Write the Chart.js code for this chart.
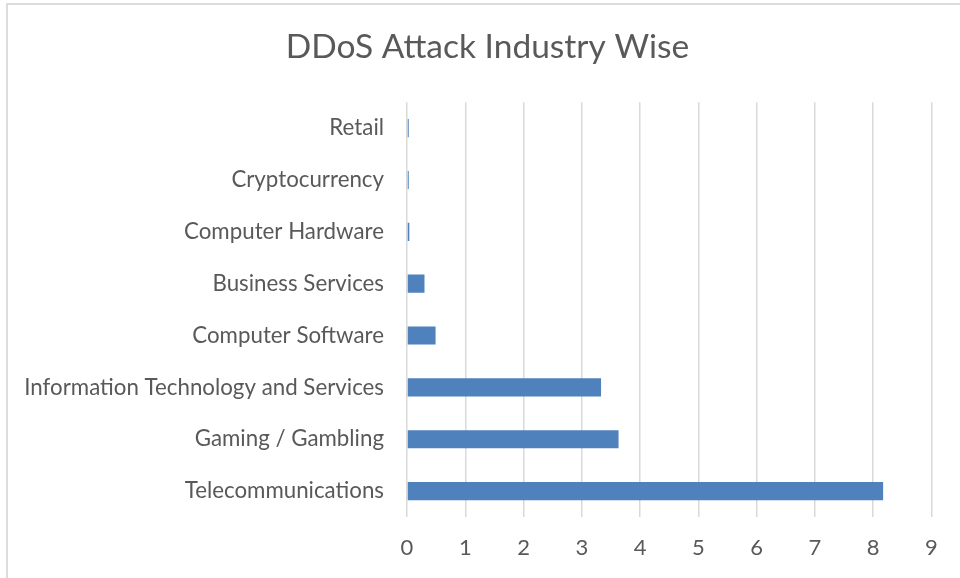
<!DOCTYPE html>
<html>
<head>
<meta charset="utf-8">
<script src="https://cdn.jsdelivr.net/npm/chart.js@4"></script>
<style>
  html, body { margin: 0; padding: 0; background: #fff; }
  .chart-box { position: relative; width: 960px; height: 578px; overflow: hidden; }
  .frame { position: absolute; left: 6px; top: 3px; width: 1000px; height: 700px; border: 2px solid #dcdcdc; box-sizing: border-box; }
  canvas { position: absolute; left: 0; top: 0; }
</style>
</head>
<body>
<div class="chart-box">
  <div class="frame"></div>
  <canvas id="ddosChart" width="960" height="578"></canvas>
</div>
<script>
// data (bottom to top in the picture)
var industries = ['Telecommunications', 'Gaming / Gambling', 'Information Technology and Services',
  'Computer Software', 'Business Services', 'Computer Hardware', 'Cryptocurrency', 'Retail'];
var attackShare = [8.17, 3.63, 3.33, 0.49, 0.3, 0.04, 0.03, 0.03];
var xTicks = [0, 1, 2, 3, 4, 5, 6, 7, 8, 9];

var textColor = '#595959';
var fontFamily = 'Lato, "Open Sans", sans-serif';

new Chart(document.getElementById('ddosChart').getContext('2d'), {
  type: 'bar',
  data: {
    labels: industries,
    datasets: [{
      data: attackShare,
      backgroundColor: '#4f81bd',
      borderWidth: 0,
      categoryPercentage: 1,
      barPercentage: 0.35
    }]
  },
  options: {
    indexAxis: 'y',
    responsive: false,
    animation: false,
    layout: { padding: { left: 15, right: 0, top: 0, bottom: 0 } },
    plugins: {
      legend: { display: false },
      tooltip: { enabled: false },
      title: {
        display: true,
        text: 'DDoS Attack Industry Wise',
        color: textColor,
        font: { family: fontFamily, size: 33.5, weight: 'normal' },
        padding: { top: 27, bottom: 35 }
      }
    },
    scales: {
      x: {
        min: 0,
        max: 9,
        afterBuildTicks: function(axis) { axis.ticks = xTicks.map(function(v) { return { value: v }; }); },
        afterFit: function(axis) { axis.height = 61; },
        grid: { color: '#d9d9d9', lineWidth: 1.5, drawTicks: false },
        border: { display: false },
        ticks: { color: textColor, font: { family: fontFamily, size: 22 }, padding: 18 }
      },
      y: {
        reverse: true,
        afterFit: function(axis) { axis.width = 392; },
        grid: { display: false, drawTicks: false },
        border: { display: false },
        ticks: { color: textColor, font: { family: fontFamily, size: 22.3 }, padding: 23 }
      },
      // empty right-hand axis: keeps the right margin without shifting the title
      yRight: {
        type: 'category',
        position: 'right',
        afterFit: function(axis) { axis.width = 28.5; },
        grid: { display: false, drawTicks: false },
        border: { display: false },
        ticks: { display: false }
      }
    }
  }
});
</script>
</body>
</html>
